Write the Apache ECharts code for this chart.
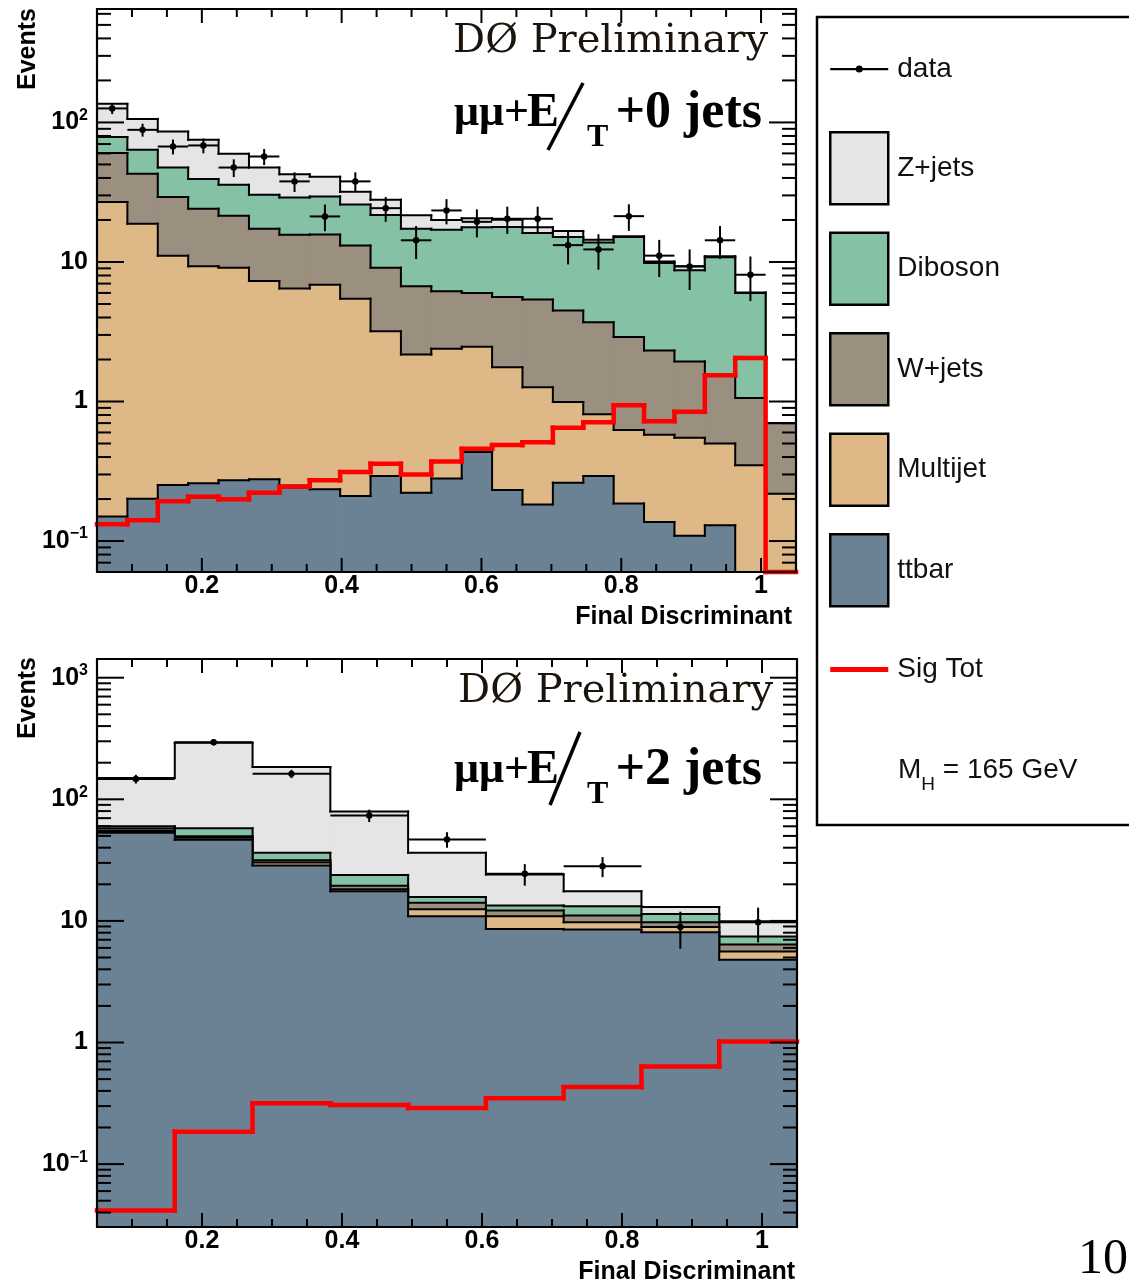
<!DOCTYPE html>
<html>
<head>
<meta charset="utf-8">
<script src="https://cdn.jsdelivr.net/npm/echarts@6.0.0/dist/echarts.min.js"></script>
<style>
html,body{margin:0;padding:0;background:#fff;}
#chart{width:1129px;height:1285px;}
</style>
</head>
<body>
<div id="chart"></div>
<script>
// ===================== DATA =====================
const xMin = 0.05, xMax = 1.05;

// Upper panel: mumu + MET + 0 jets (23 bins)
const ttbar0    = [0.150,0.201,0.252,0.259,0.273,0.277,0.250,0.235,0.210,0.292,0.222,0.281,0.434,0.232,0.183,0.262,0.292,0.186,0.137,0.109,0.130,0,0];
const multijet0 = [26.75,18.6,10.85,9.04,8.83,7.02,6.2,6.62,5.25,2.90,1.95,2.11,2.03,1.53,1.08,0.73,0.52,0.44,0.44,0.44,0.37,0.35,0.218];
const wjets0    = [33.4,24.1,18.1,14.8,12.3,10.0,9.25,8.85,7.64,5.91,4.52,3.77,3.54,3.84,4.11,3.49,2.89,2.27,1.74,1.39,1.06,0.71,0.48];
const diboson0  = [18.2,20.8,18.3,15.2,14.3,13.0,13.3,13.8,12.7,12.6,10.6,10.84,11.7,12.2,10.73,10.62,10.1,12.2,7.52,6.77,9.24,4.94,0];
const zjets0    = [57.5,42.3,38.5,35.7,23.9,17.2,13.5,11.3,6.0,6.2,4.3,3.0,2.9,2.3,1.6,1.6,0.6,0.2,0.26,0.59,0.2,0.05,0];
const data0     = [126,88.5,67.2,68.4,47.5,57,37.8,21.2,37.8,24.3,14.3,23.4,19.4,20.4,20.4,13.2,12.3,21.3,11.1,9.3,14.3,8.1,null];
const dataErr0  = [11.2,9.4,8.2,8.3,6.9,7.5,6.1,4.6,6.1,4.9,3.8,4.8,4.4,4.5,4.5,3.6,3.5,4.6,3.3,3.0,3.8,2.85,null];
const signal0   = [0.132,0.141,0.193,0.208,0.199,0.222,0.245,0.273,0.312,0.358,0.300,0.371,0.458,0.487,0.511,0.648,0.711,0.940,0.723,0.843,1.54,2.05,0];

// Lower panel: mumu + MET + 2 jets (9 bins)
const ttbar2    = [53,46.5,28.6,17.5,10.9,8.6,8.5,8.07,4.8];
const multijet2 = [2.0,1.9,1.6,0.7,1.6,2.3,1.25,0.83,0.8];
const wjets2    = [2.5,1.4,1.3,1.3,1.6,1.3,1.35,0.85,0.8];
const diboson2  = [2.5,8.0,4.8,4.4,1.6,1.2,2.1,1.65,1.04];
const zjets2    = [90,234,148,55.5,20.6,10.7,4.3,1.6,2.51];
const data2     = [147,295,162,73.6,46.7,24.4,28.2,8.9,9.76];
const dataErr2  = [12.1,17.2,12.7,8.6,6.8,4.9,5.3,3.0,3.1];
const signal2   = [0.0415,0.185,0.317,0.307,0.29,0.348,0.43,0.635,1.02];

// Axis tick positions / ranges
const xMajorTicks = [0.2,0.4,0.6,0.8,1.0];
const xMinorTicks = [0.1,0.15,0.25,0.3,0.35,0.45,0.5,0.55,0.65,0.7,0.75,0.85,0.9,0.95];
const yRange0 = [0.06, 650];
const yRange2 = [0.0304, 1425];

const colors = {zjets:'#e5e5e5', diboson:'#85c1a4', wjets:'#9b8f80', multijet:'#deb887', ttbar:'#6b8194', signal:'#ff0000'};

// ===================== helpers =====================
function edges(n){ const e=[]; for(let i=0;i<=n;i++) e.push(xMin+(xMax-xMin)*i/n); return e; }
function cumul(layers){ // bottom -> top
  const out=[]; let run=layers[0].map(()=>0);
  layers.forEach(l=>{ run=run.map((v,i)=>v+l[i]); out.push(run.slice()); });
  return out;
}
function logTicks(lo,hi){
  const major=[],minor=[];
  for(let e=-3;e<=4;e++) for(let m=1;m<=9;m++){ const v=+(m*Math.pow(10,e)).toPrecision(6); if(v<lo||v>hi) continue; (m===1?major:minor).push(v); }
  return {major,minor};
}
function stepData(vals, ed){
  return vals.map((v,i)=>[ed[i], ed[i+1], v, i<vals.length-1 ? vals[i+1] : null]);
}
function stepRender(fill, stroke, lw){
  return function(params, api){
    const cs=params.coordSys, B=cs.y+cs.height;
    const x0=api.value(0), x1=api.value(1), v=api.value(2), nv=api.value(3);
    const px0=api.coord([x0,1])[0], px1=api.coord([x1,1])[0];
    const yOf=val=>(val>0 ? Math.min(B, api.coord([x0,val])[1]) : B);
    const y=yOf(v);
    const ch=[];
    if(fill && y<B) ch.push({type:'rect', z2:0, shape:{x:px0,y:y,width:px1-px0+0.7,height:B-y}, style:{fill:fill}});
    ch.push({type:'line', z2:1, shape:{x1:px0,y1:y,x2:px1,y2:y}, style:{stroke:stroke,lineWidth:lw,lineCap:'square'}});
    if(nv!=null && !isNaN(nv)) ch.push({type:'line', z2:1, shape:{x1:px1,y1:y,x2:px1,y2:yOf(nv)}, style:{stroke:stroke,lineWidth:lw,lineCap:'square'}});
    return {type:'group', children:ch};
  };
}
function dataRender(params, api){
  const x=api.value(0), y=api.value(1), e=api.value(2), hw=api.value(3);
  if(isNaN(y)) return null;
  const cs=params.coordSys, B=cs.y+cs.height, T=cs.y;
  const p=api.coord([x,y]);
  const pl=api.coord([x-hw,y])[0], pr=api.coord([x+hw,y])[0];
  const yl=(y-e>0)?Math.min(B,api.coord([x,y-e])[1]):B;
  const yh=Math.max(T,api.coord([x,y+e])[1]);
  const st={stroke:'#000',lineWidth:2};
  return {type:'group', children:[
    {type:'line', shape:{x1:p[0],y1:yl,x2:p[0],y2:yh}, style:st},
    {type:'line', shape:{x1:pl,y1:p[1],x2:pr,y2:p[1]}, style:st},
    {type:'circle', shape:{cx:p[0],cy:p[1],r:3.2}, style:{fill:'#000'}}
  ]};
}
function tickRender(params, api){
  const cs=params.coordSys, L=cs.x, R=cs.x+cs.width, T=cs.y, B=cs.y+cs.height;
  const v=api.value(0), kind=api.value(1);
  const st={stroke:'#000',lineWidth:2};
  if(kind===5) return {type:'rect', shape:{x:L,y:T,width:cs.width,height:cs.height}, style:{fill:'rgba(0,0,0,0)',stroke:'#000',lineWidth:2.2}};
  if(kind<=2){
    const px=api.coord([v,1])[0], len=(kind===1?14:8);
    return {type:'group', children:[
      {type:'line', shape:{x1:px,y1:B,x2:px,y2:B-len}, style:st},
      {type:'line', shape:{x1:px,y1:T,x2:px,y2:T+len}, style:st}]};
  }
  const py=api.coord([0.5,v])[1], len=(kind===3?27:14);
  return {type:'group', children:[
    {type:'line', shape:{x1:L,y1:py,x2:L+len,y2:py}, style:st},
    {type:'line', shape:{x1:R,y1:py,x2:R-len,y2:py}, style:st}]};
}
function tickData(yr){
  const t=logTicks(yr[0],yr[1]); const d=[];
  xMajorTicks.forEach(v=>d.push([v,1])); xMinorTicks.forEach(v=>d.push([v,2]));
  t.major.forEach(v=>d.push([v,3])); t.minor.forEach(v=>d.push([v,4]));
  d.push([0.5,5]);
  return d;
}
function logLabel(v){
  const l=Math.log10(v), e=Math.round(l);
  if(Math.abs(l-e)>1e-4) return '';
  if(e===0) return '{b|1}';
  if(e===1) return '{b|10}';
  return '{b|10}{s|'+(e<0?'\u2212'+(-e):e)+'}';
}
function xLabel(v){
  const k=v/0.2; if(v<0.15||Math.abs(k-Math.round(k))>1e-6) return '';
  return Math.abs(v-1)<1e-6?'1':v.toFixed(1);
}

function panelSeries(gi, comps, data, err, sig){
  const n=comps[0].length, ed=edges(n);
  const cum=cumul(comps); // [tt, +mj, +w, +db, +z]
  const names=['ttbar','Multijet','W+jets','Diboson','Z+jets'];
  const cols=[colors.ttbar,colors.multijet,colors.wjets,colors.diboson,colors.zjets];
  const s=[];
  for(let k=4;k>=0;k--){
    s.push({type:'custom', name:names[k], xAxisIndex:gi, yAxisIndex:gi, z:2+(4-k), clip:true,
      encode:{x:[0,1], y:2}, renderItem:stepRender(cols[k],'#000',2), data:stepData(cum[k],ed)});
  }
  s.push({type:'custom', name:'Sig Tot', xAxisIndex:gi, yAxisIndex:gi, z:8, clip:false,
    encode:{x:[0,1], y:2}, renderItem:stepRender(null,colors.signal,4.5), data:stepData(sig,ed)});
  const hw=(xMax-xMin)/n/2;
  const dd=[]; data.forEach((v,i)=>{ if(v!=null) dd.push([(ed[i]+ed[i+1])/2, v, err[i], hw]); });
  s.push({type:'custom', name:'data', xAxisIndex:gi, yAxisIndex:gi, z:9, clip:false,
    encode:{x:0, y:1}, renderItem:dataRender, data:dd});
  s.push({type:'custom', name:'axes'+gi, xAxisIndex:gi, yAxisIndex:gi, z:10, clip:false, silent:true,
    encode:{x:0, y:0}, renderItem:tickRender, data:tickData(gi===0?yRange0:yRange2)});
  return s;
}

const FONT='"Liberation Sans", Arial, Helvetica, sans-serif';
const SERIF='"Liberation Serif", "Times New Roman", serif';
function xAxisCfg(gi){
  return {gridIndex:gi, type:'value', min:xMin, max:xMax, interval:0.05,
    axisLine:{show:false}, axisTick:{show:false}, splitLine:{show:false},
    axisLabel:{formatter:xLabel, fontSize:25, fontWeight:'bold', color:'#000', margin:2, fontFamily:FONT}};
}
function yAxisCfg(gi, yr){
  return {gridIndex:gi, type:'log', logBase:10, min:yr[0], max:yr[1],
    axisLine:{show:false}, axisTick:{show:false}, splitLine:{show:false},
    axisLabel:{formatter:logLabel, margin:9, fontFamily:FONT,
      rich:{b:{fontSize:25, fontWeight:'bold', color:'#000', lineHeight:30, verticalAlign:'middle', fontFamily:FONT},
            s:{fontSize:16, fontWeight:'bold', color:'#000', lineHeight:30, verticalAlign:'top', fontFamily:FONT}}}};
}

const dataIcon='path://M0,0L0.01,0M58,72L57.99,72M0,35h58v2.2h-58zM25.5,36.1a3.5,3.5 0 1,1 7,0a3.5,3.5 0 1,1 -7,0z';
const sigIcon='path://M0,0L0.01,0M58,72L57.99,72M0,33.5h58v5h-58z';

function label(x,y,text,size,opts){
  return {type:'text', x:x, y:y, style:Object.assign({text:text, fontSize:size, fontFamily:SERIF, fill:'#000', align:'left', verticalAlign:'middle'}, opts||{})};
}
function axisTitle(x,y,text){
  return {type:'text', x:x, y:y, style:{text:text, fontSize:25, fontWeight:'bold', fontFamily:FONT, fill:'#000', align:'right', verticalAlign:'middle'}};
}

const option={
  animation:false,
  backgroundColor:'#fff',
  textStyle:{fontFamily:FONT},
  grid:[
    {left:97, top:9, width:699, height:563, show:false, outerBoundsMode:'none'},
    {left:97, top:659, width:700, height:568, show:false, outerBoundsMode:'none'}
  ],
  xAxis:[xAxisCfg(0), xAxisCfg(1)],
  yAxis:[yAxisCfg(0,yRange0), yAxisCfg(1,yRange2)],
  legend:{
    orient:'vertical', left:829, top:33, itemWidth:58, itemHeight:72, itemGap:26, padding:0,
    selectedMode:false,
    textStyle:{fontSize:28, color:'#111', fontFamily:FONT, padding:[0,0,0,4]},
    data:[
      {name:'data', icon:dataIcon, itemStyle:{color:'#000', borderWidth:0}},
      {name:'Z+jets', icon:'rect', itemStyle:{color:colors.zjets, borderColor:'#000', borderWidth:2.5}},
      {name:'Diboson', icon:'rect', itemStyle:{color:colors.diboson, borderColor:'#000', borderWidth:2.5}},
      {name:'W+jets', icon:'rect', itemStyle:{color:colors.wjets, borderColor:'#000', borderWidth:2.5}},
      {name:'Multijet', icon:'rect', itemStyle:{color:colors.multijet, borderColor:'#000', borderWidth:2.5}},
      {name:'ttbar', icon:'rect', itemStyle:{color:colors.ttbar, borderColor:'#000', borderWidth:2.5}},
      {name:'Sig Tot', icon:sigIcon, itemStyle:{color:colors.signal, borderWidth:0}}
    ]
  },
  graphic:[
    {type:'rect', shape:{x:817,y:17,width:420,height:808}, style:{fill:'rgba(0,0,0,0)', stroke:'#000', lineWidth:2.5}},
    {type:'text', x:898, y:770, style:{text:'{a|M}{s|H}{a| = 165 GeV}', align:'left', verticalAlign:'middle',
      rich:{a:{fontSize:28, fontFamily:FONT, fill:'#111', lineHeight:34, verticalAlign:'middle'},
            s:{fontSize:19, fontFamily:FONT, fill:'#111', lineHeight:48, verticalAlign:'bottom'}}}},
    {type:'text', x:28, y:8, rotation:Math.PI/2, style:{text:'Events', fontSize:25, fontWeight:'bold', fontFamily:FONT, fill:'#000', align:'right', verticalAlign:'middle'}},
    {type:'text', x:28, y:657, rotation:Math.PI/2, style:{text:'Events', fontSize:25, fontWeight:'bold', fontFamily:FONT, fill:'#000', align:'right', verticalAlign:'middle'}},
    axisTitle(792,617,'Final Discriminant'),
    axisTitle(795,1272,'Final Discriminant'),
    // upper panel annotations
    label(768,42,'D\u00D8 Preliminary',40,{fontFamily:'"DejaVu Serif", serif', fill:'#1a140c', align:'right'}),
    label(529,114,'\u03BC\u03BC+',44,{fontWeight:'bold', align:'right'}),
    label(527,114,'E',48,{fontWeight:'bold'}),
    label(587,138,'T',32,{fontWeight:'bold'}),
    label(762,114,'+0 jets',52,{fontWeight:'bold', align:'right'}),
    {type:'line', shape:{x1:548,y1:150,x2:583,y2:83}, style:{stroke:'#000', lineWidth:3.5}},
    // lower panel annotations
    label(773,692,'D\u00D8 Preliminary',40,{fontFamily:'"DejaVu Serif", serif', fill:'#1a140c', align:'right'}),
    label(529,771,'\u03BC\u03BC+',44,{fontWeight:'bold', align:'right'}),
    label(527,771,'E',48,{fontWeight:'bold'}),
    label(587,795,'T',32,{fontWeight:'bold'}),
    label(762,771,'+2 jets',52,{fontWeight:'bold', align:'right'}),
    {type:'line', shape:{x1:550,y1:805,x2:580,y2:732}, style:{stroke:'#000', lineWidth:3.5}},
    // page number
    label(1128,1260,'10',50,{align:'right'})
  ],
  series:[].concat(
    panelSeries(0,[ttbar0,multijet0,wjets0,diboson0,zjets0],data0,dataErr0,signal0),
    panelSeries(1,[ttbar2,multijet2,wjets2,diboson2,zjets2],data2,dataErr2,signal2)
  )
};

const chart=echarts.init(document.getElementById('chart'),null,{renderer:'canvas'});
chart.setOption(option);
</script>
</body>
</html>
